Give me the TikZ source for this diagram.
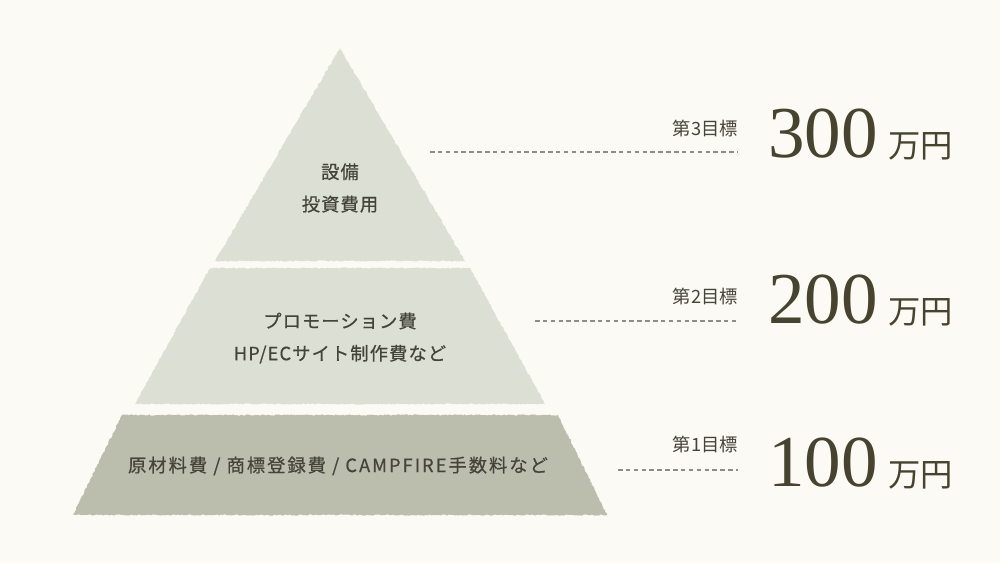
\documentclass[tikz,border=0pt]{standalone}
\usepackage{fontspec}
\setmainfont{Liberation Serif}
\newfontfamily\jpsans{Noto Sans CJK JP}[LetterSpace=6, FakeBold=0.6]
\newfontfamily\jpwide{Noto Sans CJK JP}[LetterSpace=11, FakeBold=0.6]
\newfontfamily\jpplain{Noto Sans CJK JP}
\usetikzlibrary{positioning}
\usetikzlibrary{decorations.pathmorphing}
\definecolor{paper}{HTML}{FCFAF5}
\definecolor{tierlight}{HTML}{DCE0D4}
\definecolor{tierdark}{HTML}{BBBEAD}
\definecolor{ink}{HTML}{45443A}
\definecolor{inkdark}{HTML}{46432F}
\definecolor{dashgrey}{HTML}{8E8D84}
\tikzset{
	rough/.style = {decorate, decoration={random steps,
		segment length=1.2pt, amplitude=0.45pt}},% bords irreguliers
	tier_l/.style = {rough, fill=tierlight},% etage clair
	tier_d/.style = {rough, fill=tierdark},% etage fonce
	tiertext/.style = {align=center, inner sep=0pt, text=ink,
		font=\jpsans\fontsize{13}{23}\selectfont},
	basetext/.style = {tiertext, font=\jpwide\fontsize{13}{23}\selectfont},
	goal/.style = {anchor=east, inner sep=0pt, text=ink,
		font=\jpplain\fontsize{13}{13}\selectfont},% libelle objectif
	amount/.style = {anchor=base west, inner sep=0pt, text=inkdark,
		font=\fontsize{52}{52}\selectfont},% montant
	unit/.style = {anchor=base west, inner sep=0pt, text=inkdark,
		font=\jpplain\fontsize{23}{23}\selectfont},% unite
	guide/.style = {draw=dashgrey, line width=1pt,
		dash pattern=on 3.2pt off 2.4pt}% ligne pointillee
}

\begin{document}
\begin{tikzpicture}[x=0.25mm, y=-0.25mm]
	\useasboundingbox[fill=paper] (0,0) rectangle (1000,563);
	% pyramide
	\fill[tier_l] (340,48) -- (465,261) -- (215,261) -- cycle;
	\fill[tier_l] (210,268) -- (470,268) -- (545,404) -- (135,404) -- cycle;
	\fill[tier_d] (122,415) -- (558,415) -- (607,515) -- (73,515) -- cycle;
	\node[tiertext] (t3) at (340,188) {設備\\投資費用};
	\node[tiertext] (t2) at (340,338) {プロモーション費\\HP/ECサイト制作費など};
	\node[basetext] (t1) at (338,466) {原材料費 / 商標登録費 / CAMPFIRE手数料など};
	% objectifs
	\node[goal] (g3) at (738,129) {第3目標};
	\node[goal] (g2) at (738,297) {第2目標};
	\node[goal] (g1) at (738,445) {第1目標};
	\node[amount] (n3) at (768,157) {300};
	\node[amount] (n2) at (768,323) {200};
	\node[amount] (n1) at (768,486) {100};
	\node[unit, right=2.5mm of n3.base east, anchor=base west] (u3) {万円};
	\node[unit, right=2.5mm of n2.base east, anchor=base west] (u2) {万円};
	\node[unit, right=2.5mm of n1.base east, anchor=base west] (u1) {万円};
	\coordinate (a3) at (430,152);
	\coordinate (a2) at (535,321);
	\coordinate (a1) at (618,470);
	\draw[guide] (a3) -- (a3 -| g3.east);
	\draw[guide] (a2) -- (a2 -| g2.east);
	\draw[guide] (a1) -- (a1 -| g1.east);
\end{tikzpicture}
\end{document}
